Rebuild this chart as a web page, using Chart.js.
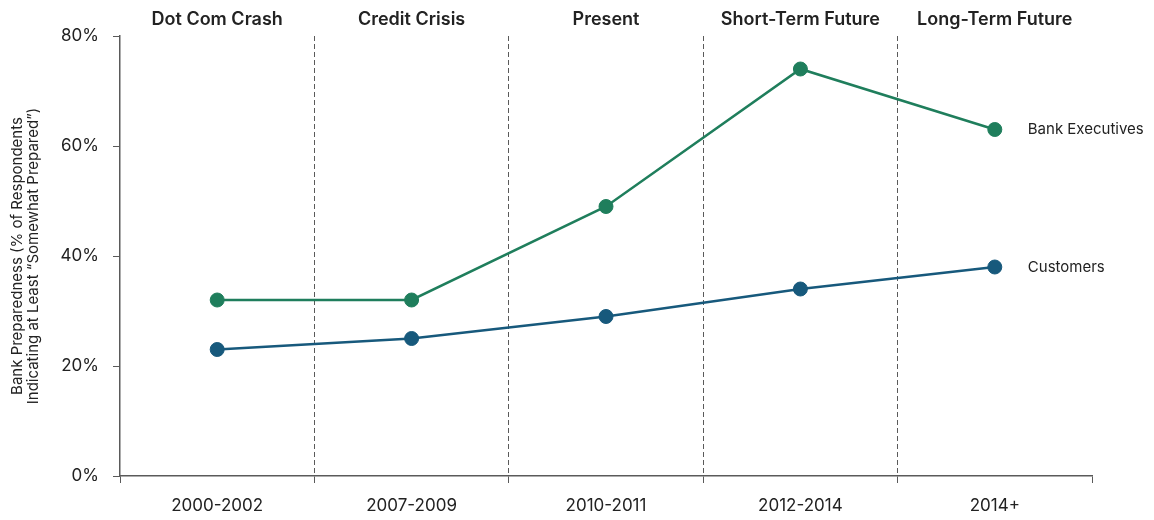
<!DOCTYPE html>
<html>
<head>
<meta charset="utf-8">
<script src="https://cdn.jsdelivr.net/npm/chart.js@4"></script>
<style>
  html, body { margin: 0; padding: 0; background: #fff; }
  #wrap { width: 1154px; height: 520px; }
</style>
</head>
<body>
<div id="wrap"><canvas id="chart" width="1154" height="520"></canvas></div>
<script>
// chart data
const periods = ['2000-2002', '2007-2009', '2010-2011', '2012-2014', '2014+'];
const eras = ['Dot Com Crash', 'Credit Crisis', 'Present', 'Short-Term Future', 'Long-Term Future'];
const bankExecutives = [32, 32, 49, 74, 63];
const customers = [23, 25, 29, 34, 38];
const yTicks = [0, 20, 40, 60, 80];

const GREEN = '#1f7e5c';
const BLUE = '#17597c';
const AXIS = '#5a5a5a';
const TEXT = '#222';
const FONT = 'Inter, "Liberation Sans", Arial, sans-serif';

// draws the series names next to the last point
const seriesLabels = {
    id: 'seriesLabels',
    afterDatasetsDraw(chart) {
        const ctx = chart.ctx;
        ctx.save();
        ctx.font = '15px ' + FONT;
        ctx.fillStyle = TEXT;
        ctx.textAlign = 'left';
        ctx.textBaseline = 'middle';
        chart.data.datasets.forEach((ds, i) => {
            const meta = chart.getDatasetMeta(i);
            const last = meta.data[meta.data.length - 1];
            ctx.fillText(ds.label, last.x + 33, last.y);
        });
        ctx.restore();
    }
};

const ctx = document.getElementById('chart').getContext('2d');
new Chart(ctx, {
    type: 'line',
    data: {
        labels: periods,
        datasets: [
            {
                label: 'Bank Executives',
                data: bankExecutives,
                borderColor: GREEN,
                backgroundColor: GREEN,
                borderWidth: 2.5,
                pointRadius: 7,
                pointBorderWidth: 1,
                pointBorderColor: GREEN,
                pointBackgroundColor: GREEN,
                fill: false,
                tension: 0
            },
            {
                label: 'Customers',
                data: customers,
                borderColor: BLUE,
                backgroundColor: BLUE,
                borderWidth: 2.5,
                pointRadius: 7,
                pointBorderWidth: 1,
                pointBorderColor: BLUE,
                pointBackgroundColor: BLUE,
                fill: false,
                tension: 0
            }
        ]
    },
    options: {
        responsive: false,
        animation: false,
        layout: { padding: { left: 0, right: 62, top: 0, bottom: 0 } },
        plugins: {
            legend: { display: false },
            tooltip: { enabled: false }
        },
        scales: {
            x: {
                type: 'category',
                position: 'bottom',
                offset: true,
                afterFit: (scale) => { scale.height = 44; },
                grid: {
                    offset: true,
                    drawOnChartArea: true,
                    color: (c) => (c.index > 0 && c.index < periods.length) ? AXIS : 'rgba(0,0,0,0)',
                    lineWidth: 1,
                    tickColor: AXIS,
                    tickLength: 7,
                    tickWidth: 1
                },
                border: { display: true, color: AXIS, width: 1.5, dash: [5, 3] },
                ticks: {
                    color: TEXT,
                    padding: 13,
                    font: { family: FONT, size: 17 }
                }
            },
            xTop: {
                type: 'category',
                position: 'top',
                labels: eras,
                offset: true,
                afterFit: (scale) => { scale.height = 36; },
                grid: { display: false, drawTicks: false },
                border: { display: false },
                ticks: {
                    color: TEXT,
                    padding: 6,
                    font: { family: FONT, size: 18, weight: '600' }
                }
            },
            y: {
                min: 0,
                max: 80,
                afterFit: (scale) => { scale.width = 120; },
                afterBuildTicks: (scale) => {
                    scale.ticks = yTicks.map(v => ({ value: v }));
                },
                grid: {
                    drawOnChartArea: false,
                    color: AXIS,
                    tickColor: AXIS,
                    tickLength: 7
                },
                border: { display: true, color: AXIS, width: 1.5 },
                ticks: {
                    color: TEXT,
                    padding: 14,
                    font: { family: FONT, size: 17 },
                    callback: (v) => v + '%'
                },
                title: {
                    display: true,
                    text: ['Bank Preparedness (% of Respondents', 'Indicating at Least \u201cSomewhat Prepared\u201d)'],
                    color: TEXT,
                    padding: { top: 9, bottom: 0 },
                    font: { family: FONT, size: 15, lineHeight: 1.1 }
                }
            }
        }
    },
    plugins: [seriesLabels]
});
</script>
</body>
</html>
